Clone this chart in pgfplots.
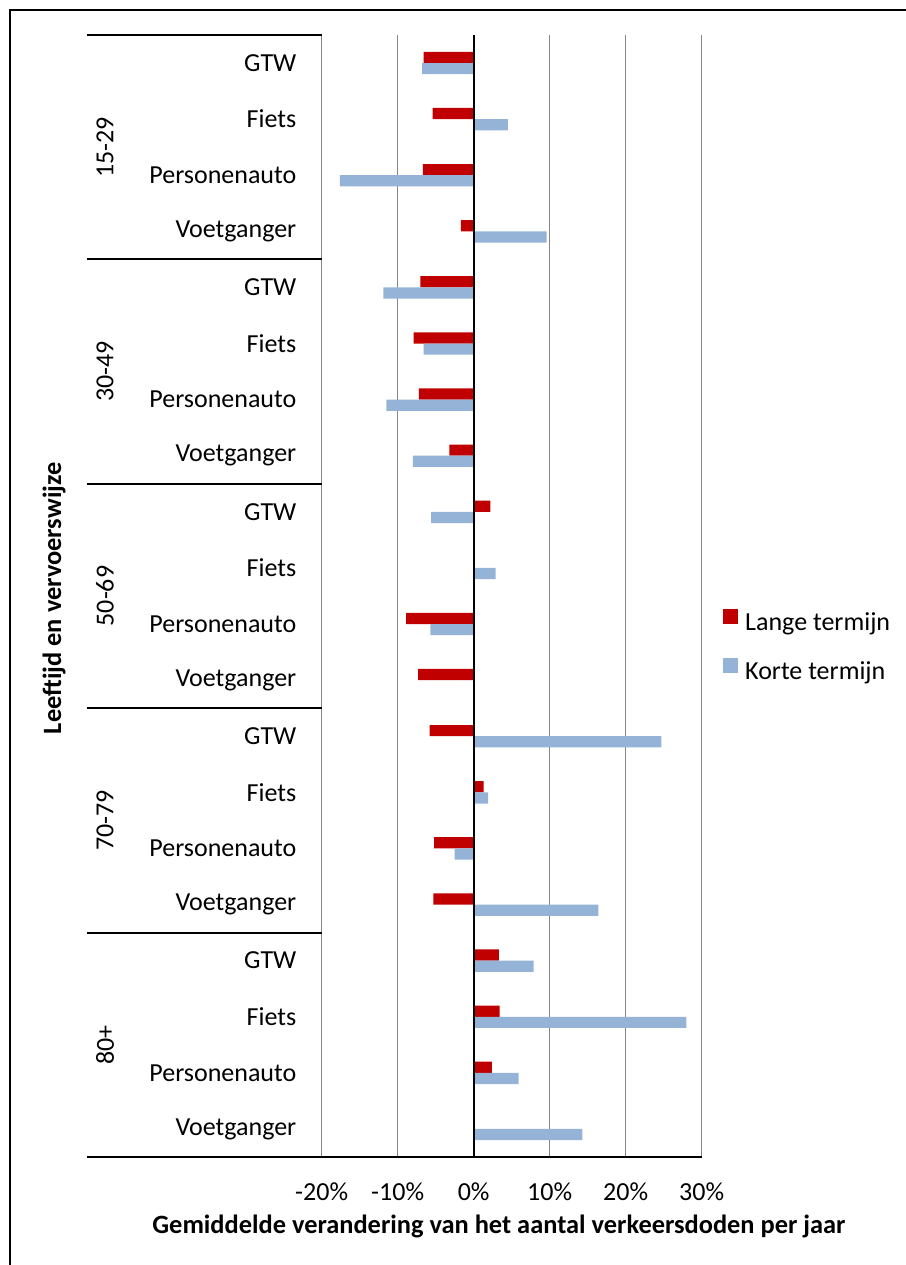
\documentclass[border=0pt]{standalone}
\usepackage{fontspec}
\setmainfont{Carlito}
\usepackage{pgfplots}
\usepackage{pgfplotstable}
\pgfplotsset{compat=1.18}

\definecolor{langred}{HTML}{C00000}
\definecolor{kortblue}{HTML}{95B3D7}
\definecolor{gridgray}{HTML}{868686}

\newcommand{\chartfont}{\fontsize{13bp}{15.6bp}\selectfont}
\newcommand{\titlefont}{\fontsize{13.2bp}{15.8bp}\selectfont\bfseries}

% Average yearly change in road deaths (%), per age group and mode of transport.
% y = position from the bottom (0 = 80+ Voetganger, 19 = 15-29 GTW)
\pgfplotstableread{
y  lange  korte
19 -6.6   -6.8
18 -5.4    4.5
17 -6.7  -17.6
16 -1.7    9.6
15 -7.0  -11.9
14 -7.9   -6.6
13 -7.2  -11.5
12 -3.2   -8.0
11  2.2   -5.6
10  0.0    2.9
9  -8.9   -5.7
8  -7.3    0.0
7  -5.8   24.7
6   1.3    1.9
5  -5.2   -2.5
4  -5.3   16.4
3   3.3    7.9
2   3.4   28.0
1   2.4    5.9
0   0.0   14.3
}\deaths

\begin{document}
\begin{tikzpicture}[font=\chartfont]
\path[use as bounding box] (-160.85bp,-54bp) rectangle (292.15bp,578.5bp);
\begin{axis}[
  at={(0,0)}, anchor=south west,
  scale only axis, width=190bp, height=561bp,
  xbar, bar width=5.6bp,
  xmin=-20, xmax=30, ymin=-0.5, ymax=19.5,
  axis line style={draw=none},
  xtick={-20,-10,0,10,20,30},
  xticklabels={-20\%,-10\%,0\%,10\%,20\%,30\%},
  ytick={0,...,19},
  yticklabels={Voetganger,Personenauto,Fiets,GTW,
               Voetganger,Personenauto,Fiets,GTW,
               Voetganger,Personenauto,Fiets,GTW,
               Voetganger,Personenauto,Fiets,GTW,
               Voetganger,Personenauto,Fiets,GTW},
  major tick length=0pt,
  tick style={draw=none},
  xmajorgrids,
  major grid style={gridgray, line width=0.6bp},
  ticklabel style={font=\chartfont},
  xticklabel style={anchor=north, inner sep=0pt, yshift=-12.5bp},
  yticklabel style={anchor=east, inner sep=0pt, xshift=-12.5bp},
  xlabel={Gemiddelde verandering van het aantal verkeersdoden per jaar},
  xlabel style={at={(axis description cs:0.4666,-0.06774)}, anchor=base, font=\titlefont},
  ylabel={Leeftijd en vervoerswijze},
  ylabel style={at={(axis description cs:-0.7045,0.498)}, anchor=center, font=\titlefont},
  legend style={at={(axis description cs:1.0561,0.4884)}, anchor=north west,
                draw=none, fill=none, inner sep=0pt, row sep=11bp, column sep=3.5bp,
                font=\chartfont,
                nodes={inner sep=0pt, text height=9bp, text depth=2.5bp}},
  legend cell align=left,
  legend image code/.code={\fill[#1] (0bp,0bp) rectangle (7.4bp,7.4bp);},
  clip=false,
]
\addplot[fill=langred, draw=none, bar shift=2.8bp] table[x=lange, y=y] {\deaths};
\addlegendentry{Lange termijn}
\addplot[fill=kortblue, draw=none, bar shift=-2.8bp] table[x=korte, y=y] {\deaths};
\addlegendentry{Korte termijn}
\draw[black, line width=1bp] (axis cs:0,-0.5) -- (axis cs:0,19.5);
\end{axis}

% group separators and the bottom axis line
\foreach \yy in {561,448.8,336.6,224.4,112.2}
  \draw[black, line width=1bp] (-117.35bp,\yy bp) -- (0bp,\yy bp);
\draw[black, line width=1bp] (-117.35bp,0bp) -- (190bp,0bp);

% age groups
\node[rotate=90] at (-108.35bp,504.9bp) {15-29};
\node[rotate=90] at (-108.35bp,392.7bp) {30-49};
\node[rotate=90] at (-108.35bp,280.5bp) {50-69};
\node[rotate=90] at (-108.35bp,168.3bp) {70-79};
\node[rotate=90] at (-108.35bp,56.1bp) {80+};

% chart frame
\draw[black, line width=0.65bp] (-155.85bp,-54bp) -- (-155.85bp,573.5bp) -- (292.15bp,573.5bp);
\end{tikzpicture}
\end{document}
